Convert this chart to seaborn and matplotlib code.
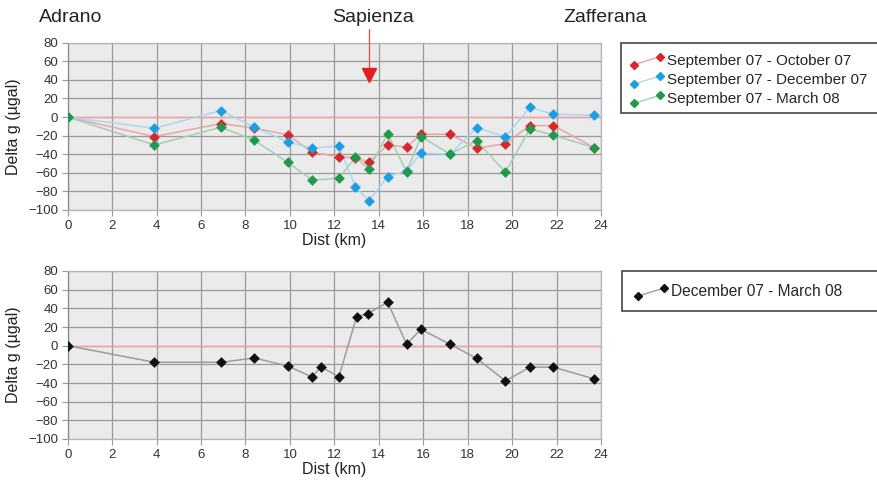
import matplotlib
matplotlib.use("Agg")
import matplotlib.pyplot as plt
import seaborn as sns
import pandas as pd
import numpy as np
from matplotlib.lines import Line2D
from matplotlib.patches import Rectangle
from matplotlib.legend_handler import HandlerBase

# ---------------- data ----------------
dist_top = [0, 3.9, 6.9, 8.4, 9.9, 11.0, 12.2, 12.95, 13.55, 14.4, 15.25, 15.9, 17.2, 18.4, 19.7, 20.8, 21.85, 23.7]
sep_oct = [0, -21, -7, -12, -19, -38, -42.6, -44, -48.7, -30, -32.5, -18.5, -18.5, -33.6, -28.6, -9.2, -9.2, -33]
sep_dec = [0, -12, 7, -11, -26.5, -33.6, -31, -75, -90, -64, -58, -39, -40, -11.4, -21, 10.5, 3, 2]
sep_mar = [0, -30, -11, -25, -48.7, -67.7, -66, -43.3, -56, -18.2, -58.7, -21, -39.7, -25.4, -59.4, -12.8, -19.3, -33]

dist_bot = [0, 3.9, 6.9, 8.4, 9.9, 11.0, 11.4, 12.2, 13.0, 13.5, 14.4, 15.25, 15.9, 17.2, 18.4, 19.7, 20.8, 21.85, 23.7]
dec_mar = [0, -17.8, -17.8, -13.2, -21.8, -33.6, -22.5, -33.6, 31, 34.3, 46.5, 1.5, 17.6, 1.5, -13.5, -37.8, -23, -23, -35.6]

series_top = ["September 07 - October 07", "September 07 - December 07", "September 07 - March 08"]
series_bot = ["December 07 - March 08"]
places = ["Adrano", "Sapienza", "Zafferana"]
sapienza_km = 13.55

x_ticks = list(range(0, 25, 2))
y_ticks = list(range(-100, 81, 20))

marker_cols = ["#d8262b", "#1b9fe4", "#20994a"]
line_cols = ["#eaa5a5", "#a9d7f0", "#a6cdb4"]

# ---------------- style ----------------
sns.set_theme(style="white")
plt.rcParams['font.family'] = ['Liberation Sans', 'DejaVu Sans']

W, H = 877, 483
fig = plt.figure(figsize=(W / 100, H / 100), dpi=100)

def px_ax(left, right, top, bottom):
    return fig.add_axes([left / W, 1 - bottom / H, (right - left) / W, (bottom - top) / H])

ax1 = px_ax(67.7, 601, 42.7, 210)
ax2 = px_ax(67.7, 601, 271, 439)

def style_axes(ax):
    ax.set_facecolor("#ebebeb")
    ax.set_xlim(0, 24)
    ax.set_ylim(-100, 80)
    ax.set_xticks(x_ticks)
    ax.set_yticks(y_ticks)
    ax.grid(True, color="#9a9a9a", linewidth=0.9)
    ax.set_axisbelow(True)
    for s in ax.spines.values():
        s.set_color("#b5b5b5")
        s.set_linewidth(0.9)
    ax.spines["left"].set_color("#888888")
    ax.tick_params(axis="both", which="both", direction="out", length=4, width=0.8,
                   color="#999999", labelsize=9.5, labelcolor="#333333", pad=3,
                   left=True, bottom=True)
    ax.axhline(0, color="#f0a0a0", linewidth=1.0, zorder=1.5)

style_axes(ax1)
style_axes(ax2)

# ---------------- top panel ----------------
df_top = pd.concat([
    pd.DataFrame({"dist": dist_top, "dg": vals, "series": name})
    for name, vals in zip(series_top, [sep_oct, sep_dec, sep_mar])
], ignore_index=True)

for name, lc in zip(series_top, line_cols):
    sns.lineplot(data=df_top[df_top.series == name], x="dist", y="dg", ax=ax1,
                 color=lc, linewidth=1.1, sort=False, legend=False, zorder=2)
for name, mc in zip(series_top, marker_cols):
    sns.scatterplot(data=df_top[df_top.series == name], x="dist", y="dg", ax=ax1,
                    color=mc, marker="D", s=30, linewidth=0, legend=False, zorder=3)

# ---------------- bottom panel ----------------
df_bot = pd.DataFrame({"dist": dist_bot, "dg": dec_mar, "series": series_bot[0]})
sns.lineplot(data=df_bot, x="dist", y="dg", ax=ax2, color="#9c9c9c", linewidth=1.1,
             sort=False, legend=False, zorder=2)
sns.scatterplot(data=df_bot, x="dist", y="dg", ax=ax2, color="#111111", marker="D",
                s=30, linewidth=0, legend=False, zorder=3)

for ax in (ax1, ax2):
    ax.set_xlabel("Dist (km)", fontsize=11.5, color="#222222", labelpad=1)
    ax.set_ylabel("Delta g (µgal)", fontsize=11.5, color="#222222", labelpad=5)

# ---------------- place names and arrow ----------------
fig.text(71 / W, 1 - 18 / H, places[0], ha="center", va="center", fontsize=14, color="#222222")
fig.text(373 / W, 1 - 18 / H, places[1], ha="center", va="center", fontsize=14, color="#222222")
fig.text(605 / W, 1 - 18 / H, places[2], ha="center", va="center", fontsize=14, color="#222222")

ax1.plot([sapienza_km, sapienza_km], [95, 45], color="#ee4444", linewidth=0.9,
         clip_on=False, zorder=4)
ax1.plot([sapienza_km], [45], marker="v", markersize=10, color="#e02020",
         linestyle="none", clip_on=False, zorder=5)

# ---------------- legends ----------------
class SlantHandler(HandlerBase):
    def __init__(self, lc, mc):
        super().__init__()
        self.lc = lc
        self.mc = mc

    def create_artists(self, legend, orig_handle, xdescent, ydescent, width, height,
                       fontsize, trans):
        x0 = -xdescent + 0.08 * width
        x1 = -xdescent + 0.92 * width
        y0 = -ydescent + 0.0 * height
        y1 = -ydescent + 0.75 * height
        ln = Line2D([x0, x1], [y0, y1], color=self.lc, linewidth=1.0, transform=trans)
        mk = Line2D([x0, x1], [y0, y1], linestyle="none", marker="D", markersize=4,
                    color=self.mc, transform=trans)
        return [ln, mk]

# legend boxes (run off the right edge, as in the reference)
fig.patches.append(Rectangle((621 / W, 1 - 113 / H), 300 / W, 70 / H,
                             transform=fig.transFigure, facecolor="white",
                             edgecolor="#444444", linewidth=1.2, zorder=0))
fig.patches.append(Rectangle((622 / W, 1 - 311 / H), 300 / W, 40 / H,
                             transform=fig.transFigure, facecolor="white",
                             edgecolor="#444444", linewidth=1.2, zorder=0))

h_top = [Line2D([], [], color=c) for c in marker_cols]
hmap_top = {h: SlantHandler(lc, mc) for h, lc, mc in zip(h_top, line_cols, marker_cols)}
leg1 = fig.legend(h_top, series_top, handler_map=hmap_top, loc="upper left",
                  bbox_to_anchor=(621 / W, 1 - 43 / H), fontsize=11, frameon=False,
                  handlelength=2.0, handletextpad=0.3,
                  labelspacing=0.35, borderpad=0.7, borderaxespad=0)

h_bot = [Line2D([], [], color="#111111")]
hmap_bot = {h_bot[0]: SlantHandler("#9c9c9c", "#111111")}
leg2 = fig.legend(h_bot, series_bot, handler_map=hmap_bot, loc="upper left",
                  bbox_to_anchor=(622 / W, 1 - 271 / H), fontsize=11.2, frameon=False,
                  handlelength=2.0, handletextpad=0.3,
                  borderpad=0.85, borderaxespad=0)

fig.savefig("out.png", dpi=100)
